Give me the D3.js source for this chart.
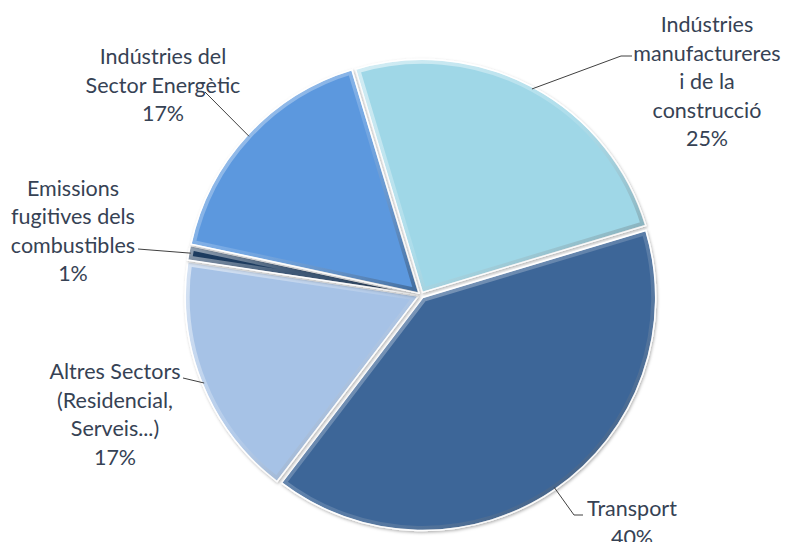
<!DOCTYPE html>
<html><head><meta charset="utf-8">
<script src="https://cdn.jsdelivr.net/npm/d3@7"></script>
<style>body{margin:0;background:#fff}</style>
</head><body>
<svg id="c" width="785" height="542"></svg>
<script>
// ---- data ----
const categories = ["Indústries manufactureres i de la construcció", "Transport", "Altres Sectors (Residencial, Serveis...)", "Emissions fugitives dels combustibles", "Indústries del Sector Energètic"];
const values = [25, 40, 17, 1, 17];
const percentLabels = ["25%", "40%", "17%", "1%", "17%"];
const labelLines = [
  ["Indústries", "manufactureres", "i de la", "construcció"],
  ["Transport"],
  ["Altres Sectors", "(Residencial,", "Serveis...)"],
  ["Emissions", "fugitives dels", "combustibles"],
  ["Indústries del", "Sector Energètic"]
];
const colors = ["#9fd7e7", "#3d6698", "#a6c2e6", "#1f3a5e", "#5b98de"];

// ---- layout (positions, not data) ----
const cx = 421, cy = 295, R = 233, explode = 3;
const startDeg = -16.7;
const labelPos = [ // [center x, first baseline y, leader end x, leader end y, leader tail x]
  {x: 707, y: 32, lx: 621, ly: 56, tx: 632},
  {x: 632, y: 516, lx: 574, ly: 515, tx: 583},
  {x: 115, y: 379, lx: 183, ly: 378, tx: 183},
  {x: 73, y: 195.5, lx: 138, ly: 249, tx: 138},
  {x: 163, y: 64, lx: 205, ly: 92, tx: 205}
];
const lineH = 28.5;

const svg = d3.select("#c");
const defs = svg.append("defs");

const rad = Math.PI / 180;
const pie = d3.pie().sort(null).value(d => d)
  .startAngle(startDeg * rad).endAngle(startDeg * rad + 2 * Math.PI);
const arcs = pie(values);
const arc = d3.arc().innerRadius(0).outerRadius(R);

// bevel gradient
const bg = defs.append("linearGradient").attr("id", "bev")
  .attr("x1", "0").attr("y1", "0").attr("x2", "1").attr("y2", "1");
bg.append("stop").attr("offset", "0").attr("stop-color", "#fff").attr("stop-opacity", 0.55);
bg.append("stop").attr("offset", "0.5").attr("stop-color", "#fff").attr("stop-opacity", 0.15);
bg.append("stop").attr("offset", "1").attr("stop-color", "#000").attr("stop-opacity", 0.3);

const sh = defs.append("filter").attr("id", "sh").attr("x", "-10%").attr("y", "-10%").attr("width", "120%").attr("height", "120%");
sh.append("feDropShadow").attr("dx", 1).attr("dy", 1.5).attr("stdDeviation", 1.5)
  .attr("flood-color", "#000").attr("flood-opacity", 0.3);

const g = svg.append("g").attr("transform", `translate(${cx},${cy})`);

arcs.forEach((a, i) => {
  const mid = (a.startAngle + a.endAngle) / 2;
  const ox = Math.sin(mid) * explode, oy = -Math.cos(mid) * explode;
  const sg = g.append("g").attr("transform", `translate(${ox},${oy})`);
  const p = arc(a);
  defs.append("clipPath").attr("id", "clip" + i).append("path").attr("d", p);
  sg.append("path").attr("d", p).attr("fill", colors[i])
    .attr("stroke", "#fff").attr("stroke-width", 1.5).attr("filter", "url(#sh)");
  sg.append("path").attr("d", p).attr("fill", "none")
    .attr("stroke", "url(#bev)").attr("stroke-width", 9)
    .attr("stroke-linejoin", "round")
    .attr("clip-path", `url(#clip${i})`);
  sg.append("path").attr("d", p).attr("fill", "none")
    .attr("stroke", "#fff").attr("stroke-opacity", 0.6).attr("stroke-width", 1.2);
});

// leader lines
arcs.forEach((a, i) => {
  const mid = (a.startAngle + a.endAngle) / 2;
  const sx = cx + Math.sin(mid) * (R + explode - 2), sy = cy - Math.cos(mid) * (R + explode - 2);
  const L = labelPos[i];
  svg.append("polyline")
    .attr("points", `${sx},${sy} ${L.lx},${L.ly} ${L.tx},${L.ly}`)
    .attr("fill", "none").attr("stroke", "#404040").attr("stroke-width", 1);
});

// labels
arcs.forEach((a, i) => {
  const L = labelPos[i];
  const t = svg.append("text").attr("text-anchor", "middle")
    .attr("font-family", "Lato, 'Open Sans', sans-serif").attr("font-size", 21.5)
    .attr("fill", "#364254");
  const lines = labelLines[i].concat([percentLabels[i]]);
  lines.forEach((s, k) => {
    t.append("tspan").attr("x", L.x).attr("y", L.y + k * lineH).text(s);
  });
});
</script>
</body></html>
